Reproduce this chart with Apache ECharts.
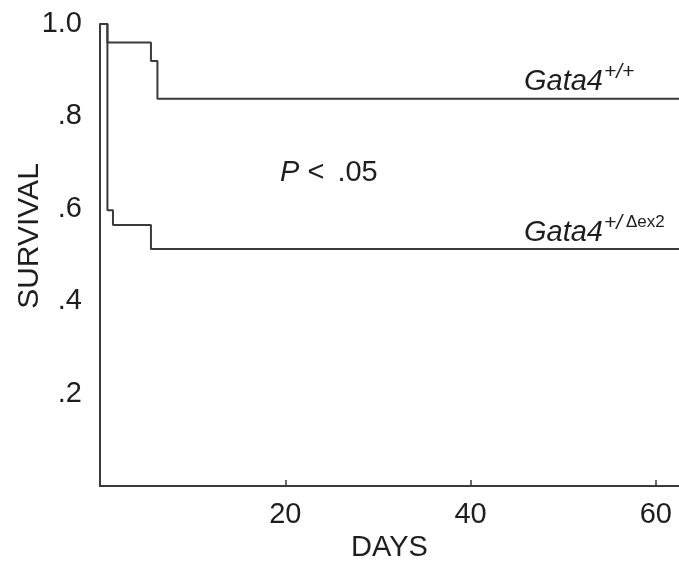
<!DOCTYPE html>
<html><head><meta charset="utf-8">
<script src="https://cdn.jsdelivr.net/npm/echarts@6/dist/echarts.min.js"></script>
<style>html,body{margin:0;padding:0;background:#fff}#c{width:679px;height:566px}</style>
</head><body><div id="c"></div>
<script>
// Kaplan-Meier survival data (days, survival)
const wildDays = [0, 0.8, 5.5, 6.2, 62.5];
const wildSurv = [1.0, 0.96, 0.92, 0.838, 0.838];
const mutDays  = [0, 0.8, 1.4, 5.5, 62.5];
const mutSurv  = [1.0, 0.597, 0.565, 0.513, 0.513];
const xTickValues = [20, 40, 60];
const yTickLabels = {'0.2': '.2', '0.4': '.4', '0.6': '.6', '0.8': '.8', '1.0': '1.0'};

const FONT = '"Liberation Sans", Arial, Helvetica, sans-serif';
const LINE = '#3a3a3a';
const TXT = '#1e1e1e';

const chart = echarts.init(document.getElementById('c'), null, {renderer: 'canvas'});
const pair = (xs, ys) => xs.map((x, i) => [x, ys[i]]);

chart.setOption({
  animation: false,
  backgroundColor: '#fff',
  grid: {left: 100, right: 0, top: 24, bottom: 80, containLabel: false, outerBoundsMode: 'none'},
  xAxis: {
    type: 'value', min: 0, max: 62.5, interval: 20,
    splitLine: {show: false},
    axisLine: {show: true, lineStyle: {color: LINE, width: 2}},
    axisTick: {show: true, inside: true, length: 6, lineStyle: {color: LINE, width: 1.5}},
    axisLabel: {
      margin: 14, color: TXT, fontFamily: FONT, fontSize: 29,
      showMaxLabel: false,
      formatter: v => xTickValues.includes(v) ? String(v) : ''
    },
    name: 'DAYS', nameLocation: 'middle', nameGap: 47,
    nameTextStyle: {color: TXT, fontFamily: FONT, fontSize: 29}
  },
  yAxis: {
    type: 'value', min: 0, max: 1, interval: 0.2,
    splitLine: {show: false},
    axisLine: {show: true, lineStyle: {color: LINE, width: 2}},
    axisTick: {show: false},
    axisLabel: {
      margin: 18, color: TXT, fontFamily: FONT, fontSize: 29,
      padding: [6, 0, 0, 0],
      formatter: v => yTickLabels[v.toFixed(1)] || ''
    }
  },
  series: [
    {type: 'line', step: 'end', symbol: 'none', data: pair(wildDays, wildSurv),
     lineStyle: {color: LINE, width: 2}},
    {type: 'line', step: 'end', symbol: 'none', data: pair(mutDays, mutSurv),
     lineStyle: {color: LINE, width: 2}}
  ],
  graphic: [
    {type: 'text', x: 30, y: 236, rotation: Math.PI / 2,
     style: {text: 'SURVIVAL', font: '30px ' + FONT, fill: TXT, align: 'center', verticalAlign: 'middle'}},
    {type: 'text', x: 280, y: 173,
     style: {text: '{i|P} < {g| }.05', align: 'left', verticalAlign: 'middle', fill: TXT,
       font: '29px ' + FONT,
       rich: {i: {fontStyle: 'italic', fontSize: 29, fontFamily: FONT, fill: TXT},
              g: {width: 5, fontSize: 29, fontFamily: FONT}}}},
    {type: 'text', x: 603, y: 82,
     style: {text: 'Gata4', font: 'italic 29px ' + FONT, fill: TXT, align: 'right', verticalAlign: 'middle'}},
    {type: 'text', x: 604, y: 72,
     style: {text: '+/+', font: 'italic 21px ' + FONT, fill: TXT, align: 'left', verticalAlign: 'middle'}},
    {type: 'text', x: 603, y: 233,
     style: {text: 'Gata4', font: 'italic 29px ' + FONT, fill: TXT, align: 'right', verticalAlign: 'middle'}},
    {type: 'text', x: 604, y: 223,
     style: {text: '+/', font: 'italic 21px ' + FONT, fill: TXT, align: 'left', verticalAlign: 'middle'}},
    {type: 'text', x: 626, y: 222,
     style: {text: 'Δex2', font: '17px ' + FONT, fill: TXT, align: 'left', verticalAlign: 'middle'}}
  ]
});
</script>
</body></html>
